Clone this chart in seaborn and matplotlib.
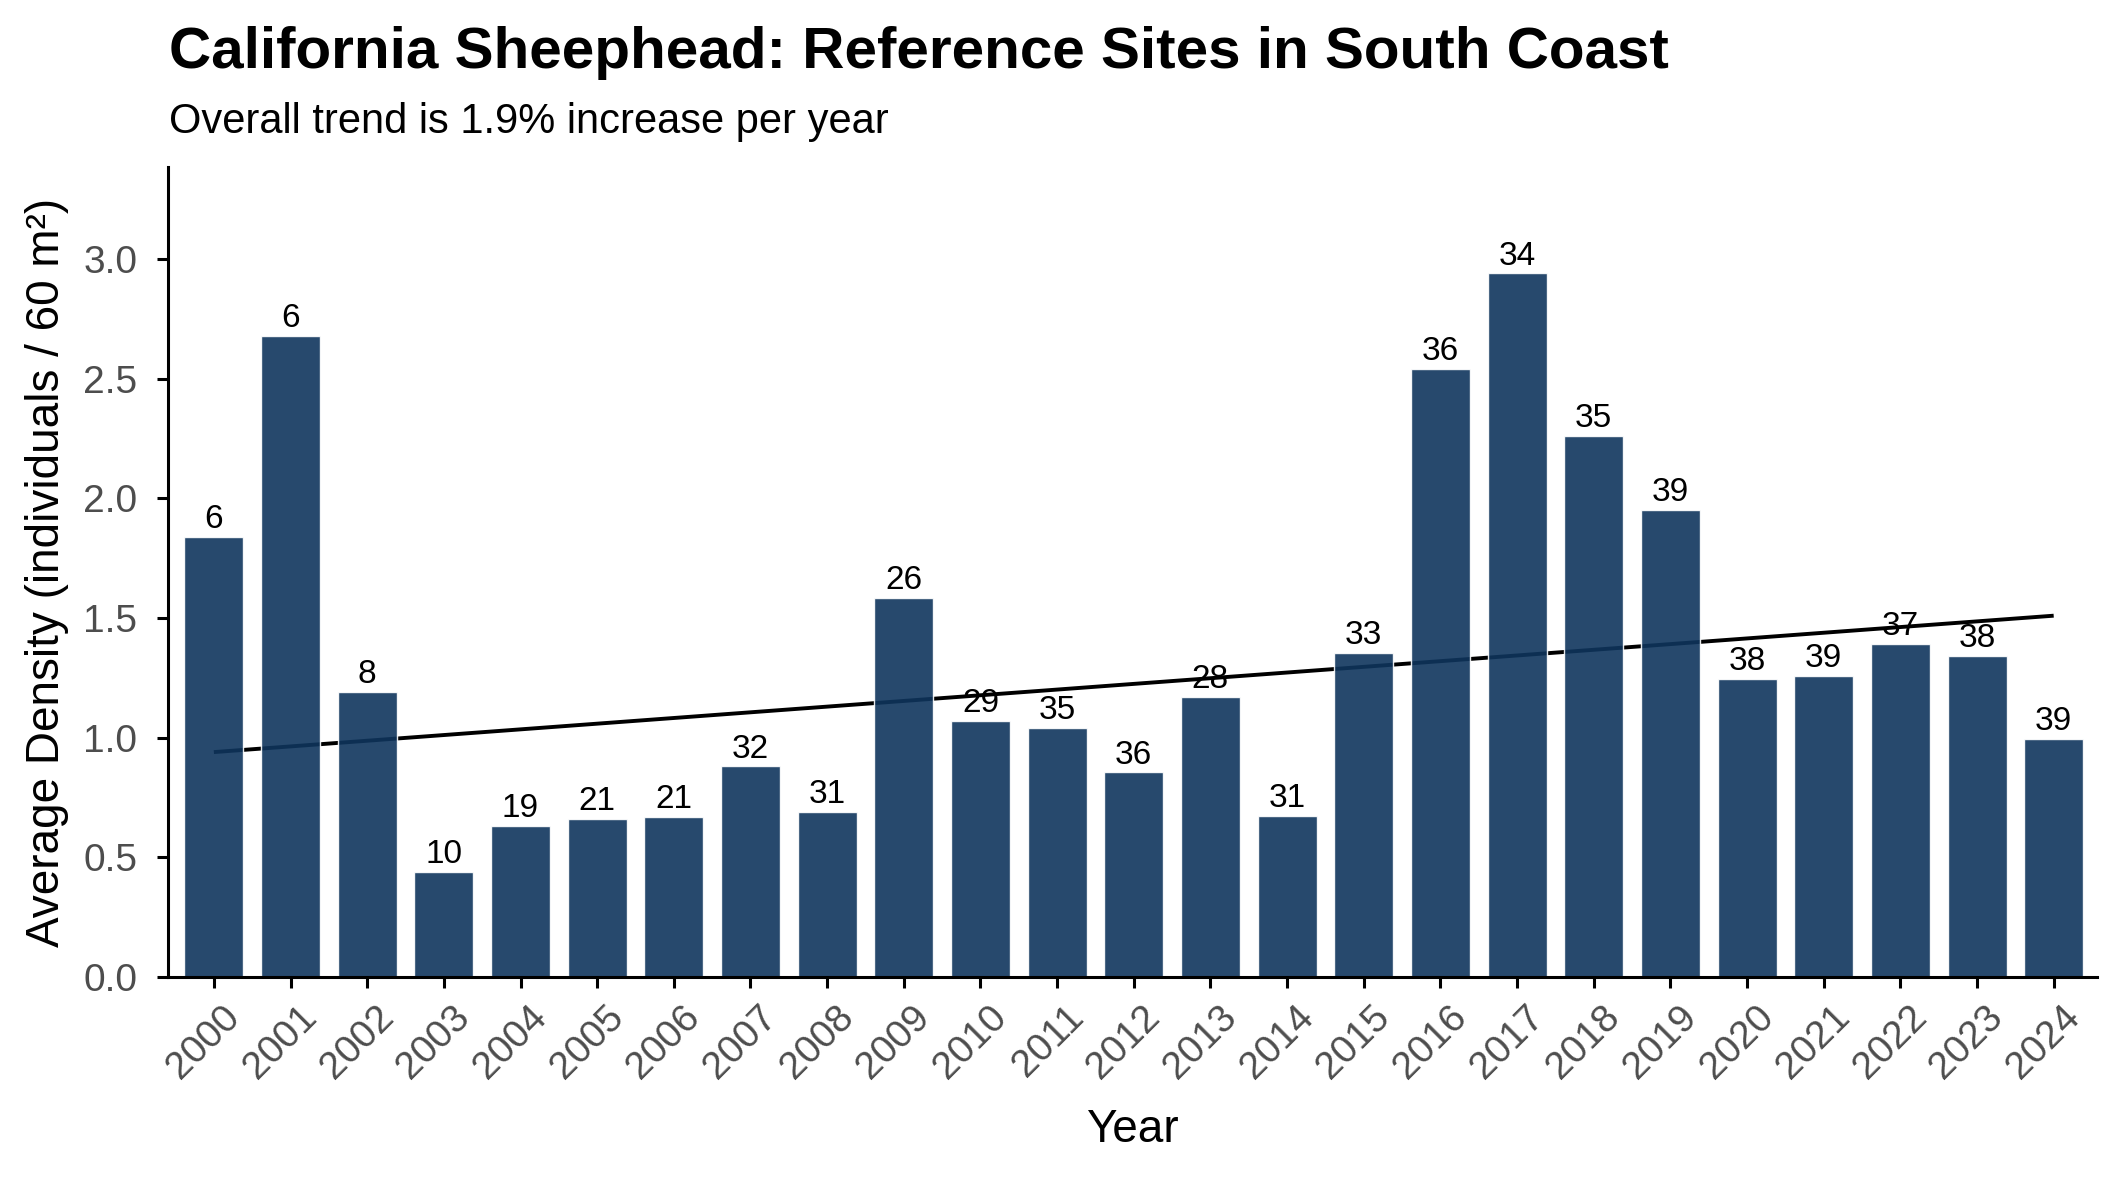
import matplotlib
matplotlib.use("Agg")
import matplotlib.pyplot as plt
import matplotlib.transforms as mtransforms
import seaborn as sns
import pandas as pd
import numpy as np

years = [str(y) for y in range(2000, 2025)]
density = [1.84, 2.68, 1.19, 0.44, 0.63, 0.66, 0.67, 0.88, 0.69, 1.585,
           1.07, 1.04, 0.855, 1.17, 0.675, 1.353, 2.54, 2.94, 2.26, 1.95,
           1.245, 1.257, 1.39, 1.34, 0.996]
n_sites = [6, 6, 8, 10, 19, 21, 21, 32, 31, 26, 29, 35, 36, 28, 31, 33, 36,
           34, 35, 39, 38, 39, 37, 38, 39]
trend_start = 0.94
trend_end = 1.51

title = "California Sheephead: Reference Sites in South Coast"
subtitle = "Overall trend is 1.9% increase per year"

sns.set_theme(style="white")
plt.rcParams['font.family'] = ['Liberation Sans', 'DejaVu Sans']

df = pd.DataFrame({"Year": years, "Density": density, "N": n_sites})

fig = plt.figure(figsize=(21.25, 11.81), dpi=100)
ax = fig.add_axes([0.079, 0.1727, 0.908, 0.6859])

# trend line (drawn beneath bars)
ax.plot([0, len(years) - 1], [trend_start, trend_end], color="black",
        lw=2.8, zorder=1, solid_capstyle="butt")

sns.barplot(data=df, x="Year", y="Density", color="#0f355d", alpha=0.9,
            width=0.77, saturation=1, ax=ax, zorder=2)

for i, (v, n) in enumerate(zip(density, n_sites)):
    ax.text(i, v + 0.008, str(n), ha="center", va="bottom", fontsize=24,
            color="black", zorder=3)

ax.set_xlim(-0.6, 24.57)
ax.set_ylim(0, 3.385)
ax.set_yticks([0, 0.5, 1.0, 1.5, 2.0, 2.5, 3.0])
ax.set_yticklabels(["0.0", "0.5", "1.0", "1.5", "2.0", "2.5", "3.0"])

for s in ["top", "right"]:
    ax.spines[s].set_visible(False)
for s in ["left", "bottom"]:
    ax.spines[s].set_linewidth(2.2)
    ax.spines[s].set_color("black")

ax.tick_params(axis="both", which="major", length=8, width=2.2,
               color="black", labelsize=28, labelcolor="#4d4d4d",
               left=True, bottom=True)
ax.tick_params(axis="y", pad=14)
ax.tick_params(axis="x", pad=6)
plt.setp(ax.get_xticklabels(), rotation=45, ha="right",
         rotation_mode="anchor")
offset = mtransforms.ScaledTranslation(0.08, -0.02, fig.dpi_scale_trans)
for lab in ax.get_xticklabels():
    lab.set_transform(lab.get_transform() + offset)

ax.set_xlabel("Year", fontsize=33, color="black", labelpad=16)
ax.set_ylabel("Average Density (individuals / 60 m²)", fontsize=33,
              color="black", labelpad=10)
ax.grid(False)

fig.text(0.0795, 0.942, title, fontsize=42, fontweight="bold",
         ha="left", va="baseline", color="black")
fig.text(0.0795, 0.887, subtitle, fontsize=30, ha="left", va="baseline",
         color="black")

fig.savefig("out.png", dpi=100, facecolor="white")
